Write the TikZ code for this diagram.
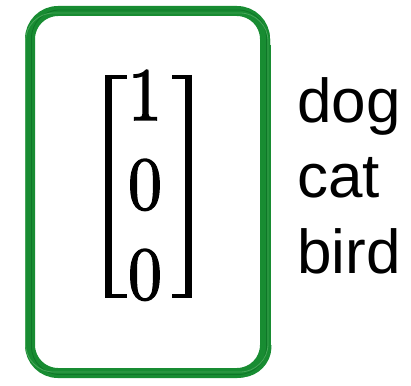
\documentclass[tikz,border=0pt]{standalone}
\usepackage{fontspec}
\newfontfamily\labelfont{Liberation Sans}
\newfontfamily\digitfont{lmroman10-regular}[Extension=.otf, FakeBold=2]
\definecolor{pen}{RGB}{24,140,50}
\definecolor{penlight}{RGB}{70,165,88}
\definecolor{pendark}{RGB}{15,118,40}
\tikzset{
  frame/.style={draw=pen, line width=10, rounded corners=28},
  scratch/.style={line width=0.8, rounded corners=28},
  digit/.style={inner sep=0, anchor=base, font=\digitfont\fontsize{75}{75}\selectfont},
  word/.style={inner sep=0, anchor=base west, font=\labelfont\fontsize{62}{62}\selectfont},
  brbar/.style={line width=6.5},
  brarm/.style={line width=4}
}
\newcommand{\narrow}[1]{\scalebox{0.9}[1]{#1}}
\begin{document}
\begin{tikzpicture}[x=1pt,y=-1pt]
\useasboundingbox (0,0) rectangle (411,385);
% hand-drawn green frame
\path[frame] (30,11) rectangle (265,373);
\draw[pen, line width=5] (268,45) -- (268,345);
\draw[pen, line width=4] (55,375) -- (240,375);
\draw[pen, line width=3, rounded corners=26] (240,376) -- (269,374) -- (270,345);
\draw[pen, line width=3, rounded corners=26] (180,9) -- (268,13) -- (269,60);
\path[scratch, draw=pendark] (31.5,10) rectangle (266.5,374.5);
\path[scratch, draw=penlight] (25.5,13) rectangle (268,372);
% matrix entries
\node[digit] (e1) at (145,120) {\narrow{1}};
\node[digit] (e2) at (145,209) {\narrow{0}};
\node[digit] (e3) at (145,299) {\narrow{0}};
% brackets
\draw[brbar] (108.5,75) -- (108.5,298);
\draw[brarm] (105.25,77) -- (127,77);
\draw[brarm] (105.25,296) -- (127,296);
\draw[brbar] (188.5,75) -- (188.5,298);
\draw[brarm] (172,77) -- (191.75,77);
\draw[brarm] (172,296) -- (191.75,296);
% labels
\node[word] (dog) at (297,122) {dog};
\node[word] (cat) at (297,197) {cat};
\node[word] (bird) at (297,273) {bird};
\end{tikzpicture}
\end{document}
